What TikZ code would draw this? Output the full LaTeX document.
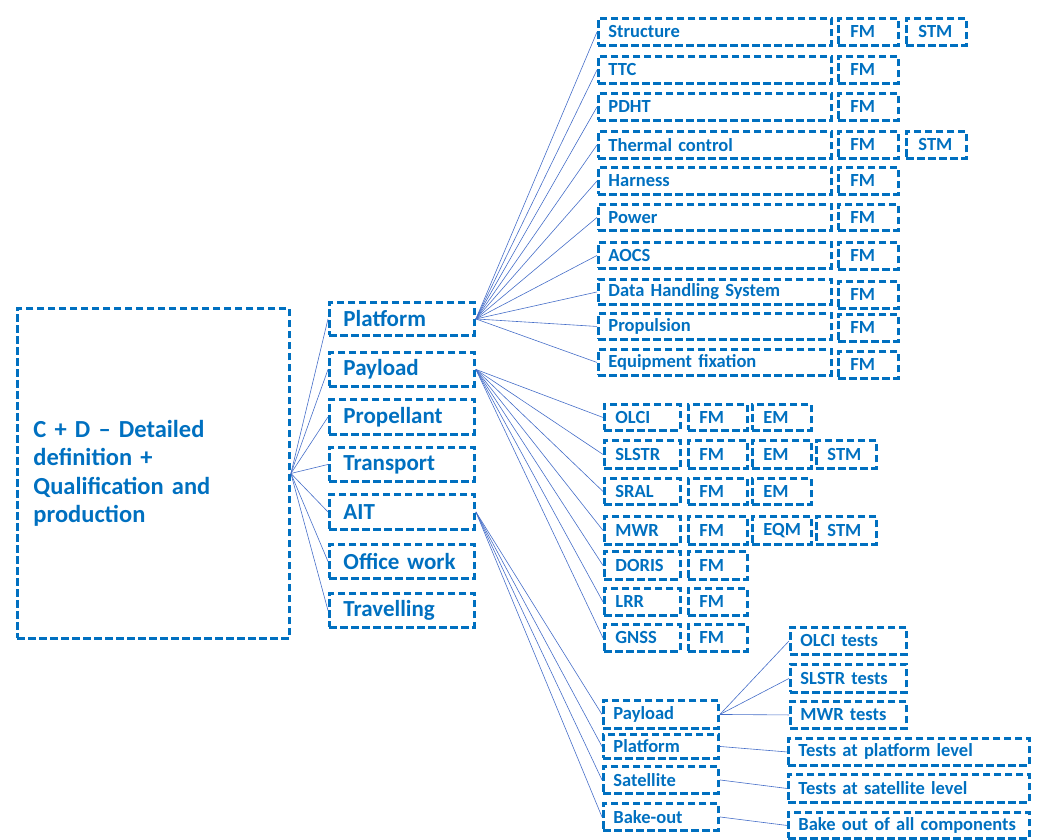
\documentclass[tikz,border=0pt]{standalone}
\usepackage{fontspec}
\setmainfont{Carlito}
\definecolor{cblue}{RGB}{0,112,192}
\definecolor{lblue}{RGB}{70,110,200}
\tikzset{
  box/.style={draw=cblue, text=cblue, line width=2.9pt, dash pattern=on 7.5pt off 3.5pt,
    align=left, inner ysep=1pt, font=\bfseries\fontsize{18.5}{22}\selectfont},
  big/.style={font=\bfseries\fontsize{23}{27}\selectfont},
  huge/.style={font=\bfseries\fontsize{24.5}{28.4}\selectfont},
  link/.style={draw=lblue, line width=0.6pt}
}
\def\bxpad{10}
% \bx[options]{name}{x1}{y1}{x2}{y2}{text}: a dashed box with left-set text
\newcommand\bx[7][]{%
  \pgfmathsetmacro\bw{#5-#3}%
  \pgfmathsetmacro\bh{#6-#4}%
  \pgfmathsetmacro\tw{\bw-2*\bxpad}%
  \node[box,#1,anchor=north west,minimum width=\bw pt,minimum height=\bh pt,
        text width=\tw pt,inner xsep=\bxpad pt] (#2) at (#3,#4) {#7};}
\begin{document}
\begin{tikzpicture}[x=1pt,y=-1pt]
\useasboundingbox (0,0) rectangle (1037,839);

% phase box
{\def\bxpad{16}
\bx[huge]{phase}{16}{307}{288}{637}{C + D -- Detailed\\definition +\\Qualification and\\production}}

% first level
{\def\bxpad{14}
\bx[big]{plat}{328}{301}{473}{334}{Platform}
\bx[big]{payl}{328}{351}{473}{385}{Payload}
\bx[big]{prop}{328}{398}{473}{433}{Propellant}
\bx[big]{trans}{328}{446}{473}{480}{Transport}
\bx[big]{ait}{328}{493}{473}{528}{AIT}
\bx[big]{office}{328}{543}{473}{577}{Office work}
\bx[big]{trav}{328}{592}{473}{626}{Travelling}}

% platform subsystems
\bx{structure}{597}{17}{830}{44}{Structure}
\bx{ttc}{597}{55}{830}{82}{TTC}
\bx{pdht}{597}{92}{830}{119}{PDHT}
\bx{thermal}{597}{130}{830}{157}{Thermal control}
\bx{harness}{597}{166}{830}{193}{Harness}
\bx{power}{597}{203}{830}{229}{Power}
\bx{aocs}{597}{241}{830}{267}{AOCS}
\bx{dhs}{597}{278}{830}{303}{Data Handling System}
\bx{propul}{597}{312}{830}{338}{Propulsion}
\bx{fixation}{597}{348}{830}{374}{Equipment fixation}

{\def\bxpad{12}
\bx{structure-fm}{837}{17}{897}{44}{FM}
\bx{structure-stm}{905}{17}{965}{44}{STM}
\bx{ttc-fm}{837}{55}{897}{82}{FM}
\bx{pdht-fm}{837}{92}{897}{119}{FM}
\bx{thermal-fm}{837}{130}{897}{157}{FM}
\bx{thermal-stm}{905}{130}{965}{157}{STM}
\bx{harness-fm}{837}{166}{897}{193}{FM}
\bx{power-fm}{837}{203}{897}{229}{FM}
\bx{aocs-fm}{837}{241}{897}{268}{FM}
\bx{dhs-fm}{837}{280}{897}{307}{FM}
\bx{propul-fm}{837}{313}{897}{340}{FM}
\bx{fixation-fm}{837}{350}{897}{377}{FM}}

% payload instruments
{\def\bxpad{11}
\bx{olci}{603}{403}{679}{429}{OLCI}
\bx{slstr}{603}{439}{679}{467}{SLSTR}
\bx{sral}{603}{477}{679}{503}{SRAL}
\bx{mwr}{603}{515}{679}{543}{MWR}
\bx{doris}{603}{550}{679}{578}{DORIS}
\bx{lrr}{603}{587}{679}{614}{LRR}
\bx{gnss}{603}{623}{679}{650}{GNSS}
\bx{olci-fm}{687}{403}{746}{429}{FM}
\bx{olci-em}{751}{403}{810}{429}{EM}
\bx{slstr-fm}{687}{439}{746}{467}{FM}
\bx{slstr-em}{751}{439}{810}{467}{EM}
\bx{slstr-stm}{815}{439}{875}{467}{STM}
\bx{sral-fm}{687}{477}{746}{503}{FM}
\bx{sral-em}{751}{477}{810}{503}{EM}
\bx{mwr-fm}{687}{515}{746}{543}{FM}
\bx{mwr-eqm}{751}{515}{810}{543}{EQM}
\bx{mwr-stm}{815}{515}{875}{543}{STM}
\bx{doris-fm}{687}{550}{746}{578}{FM}
\bx{lrr-fm}{687}{587}{746}{614}{FM}
\bx{gnss-fm}{687}{623}{746}{650}{FM}}

% AIT activities
\bx{ait-payl}{602}{699}{717}{727}{Payload}
\bx{ait-plat}{602}{733}{717}{757}{Platform}
\bx{ait-sat}{602}{765}{717}{792}{Satellite}
\bx{ait-bake}{602}{802}{717}{829}{Bake-out}
\bx{t-olci}{789}{626}{905}{653}{OLCI tests}
\bx{t-slstr}{789}{663}{905}{691}{SLSTR tests}
\bx{t-mwr}{789}{700}{905}{727}{MWR tests}
\bx{t-plat}{787}{737}{1028}{764}{Tests at platform level}
\bx{t-sat}{787}{773}{1028}{801}{Tests at satellite level}
\bx{t-bake}{787}{811}{1028}{837}{Bake out of all components}

% connectors
\foreach \n in {plat,payl,prop,trans,ait,office,trav}
  \draw[link] (phase.east) -- (\n.west);
\foreach \n in {structure,ttc,pdht,thermal,harness,power,aocs,dhs,propul,fixation}
  \draw[link] (plat.east) -- (\n.west);
\foreach \n in {olci,slstr,sral,mwr,doris,lrr,gnss}
  \draw[link] (payl.east) -- (\n.west);
\foreach \n in {ait-payl,ait-plat,ait-sat,ait-bake}
  \draw[link] (ait.east) -- (\n.west);
\foreach \n in {t-olci,t-slstr,t-mwr}
  \draw[link] (ait-payl.east) -- (\n.west);
\draw[link] (ait-plat.east) -- (t-plat.west);
\draw[link] (ait-sat.east) -- (t-sat.west);
\draw[link] (ait-bake.east) -- (t-bake.west);
\end{tikzpicture}
\end{document}
